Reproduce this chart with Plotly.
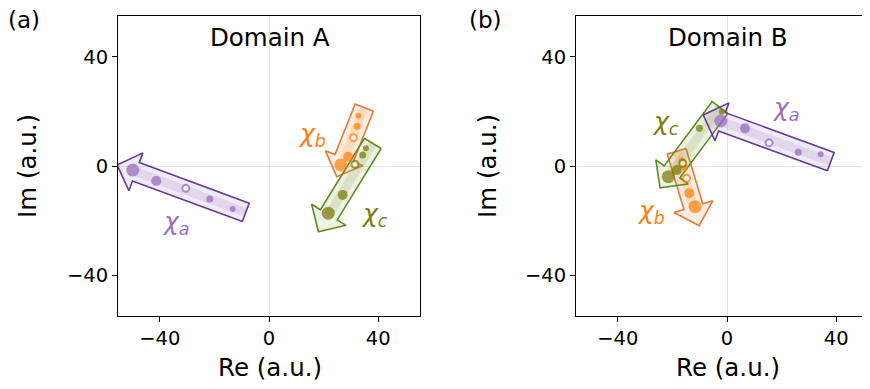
import math
import plotly.graph_objects as go

# ---------------- data ----------------
# Domain A : points ordered from arrow tail to arrow tip
a_chi_a_re = [-13.3, -21.7, -30.5, -41.3, -49.9]
a_chi_a_im = [-15.8, -12.1, -8.2, -5.5, -1.5]
a_chi_b_re = [32.7, 32.3, 30.9, 29.0, 26.3]
a_chi_b_im = [18.4, 14.6, 10.4, 3.4, 0.4]
a_chi_c_re = [35.5, 34.3, 31.5, 27.0, 21.7]
a_chi_c_im = [6.5, 4.0, 0.6, -10.6, -17.3]

# Domain B
b_chi_a_re = [34.3, 26.1, 15.4, 6.6, -2.3]
b_chi_a_im = [4.3, 5.0, 8.5, 13.8, 16.5]
b_chi_b_re = [-16.5, -15.6, -14.8, -13.8, -11.7]
b_chi_b_im = [2.0, -0.5, -4.5, -10.0, -14.9]
b_chi_c_re = [-1.9, -10.1, -16.2, -18.4, -21.5]
b_chi_c_im = [19.9, 13.8, 1.0, -1.5, -3.9]

hollow_index = 2
tick_vals = [-40, 0, 40]
tick_text = ["\u221240", "0", "40"]

# arrows: (tail centre, tip) in data units
a_arrow_a = ((-8.5, -17.0), (-55.6, 0.4))
a_arrow_b = ((34.9, 21.4), (24.8, -3.9))
a_arrow_c = ((38.0, 8.3), (18.1, -24.1))
b_arrow_a = ((38.0, 1.6), (-8.7, 18.7))
b_arrow_b = ((-18.45, 5.4), (-10.2, -21.9))
b_arrow_c = ((-2.55, 21.45), (-24.5, -8.0))

# ---------------- styles ----------------
W, H = 870, 389
OFF = 8  # page body margin
FONT = "DejaVu Sans"
marker_sizes = [6, 7, 8, 10, 13]
col_pts = {"a": "#9467bd", "b": "#ff7f0e", "c": "#767600"}
col_lab = {"a": "#9a6fc2", "b": "#ff7f0e", "c": "#7d7d10"}
col_edge = {"a": "#633a9c", "b": "#e8773a", "c": "#5c8c1e"}
col_fill = {"a": "rgba(148,103,189,0.13)", "b": "rgba(255,127,14,0.13)",
            "c": "rgba(120,150,40,0.13)"}
col_glow = {"a": "rgba(148,103,189,0.16)", "b": "rgba(255,127,14,0.16)",
            "c": "rgba(120,150,40,0.16)"}

fig = go.Figure()


def arrow_pts(tail, tip, bw=3.6, hw=7.4, hl=7.3):
    tx, ty = tail
    px, py = tip
    dx, dy = px - tx, py - ty
    L = math.hypot(dx, dy)
    ux, uy = dx / L, dy / L
    nx, ny = -uy, ux
    bx, by = px - hl * ux, py - hl * uy
    pts = [(tx + bw * nx, ty + bw * ny), (bx + bw * nx, by + bw * ny),
           (bx + hw * nx, by + hw * ny), (px, py),
           (bx - hw * nx, by - hw * ny), (bx - bw * nx, by - bw * ny),
           (tx - bw * nx, ty - bw * ny)]
    return pts, (bx, by)


def add_arrow(arrow, key, xa, ya):
    tail, tip = arrow
    pts, base = arrow_pts(tail, tip)
    fig.add_trace(go.Scatter(x=[tail[0], base[0]], y=[tail[1], base[1]],
                             mode="lines", line=dict(color=col_glow[key], width=9),
                             xaxis=xa, yaxis=ya, hoverinfo="skip", showlegend=False))
    xs = [p[0] for p in pts] + [pts[0][0]]
    ys = [p[1] for p in pts] + [pts[0][1]]
    fig.add_trace(go.Scatter(x=xs, y=ys, mode="lines", fill="toself",
                             fillcolor=col_fill[key],
                             line=dict(color=col_edge[key], width=1.6),
                             xaxis=xa, yaxis=ya, hoverinfo="skip", showlegend=False))


def add_points(re, im, key, xa, ya):
    colors = [("white" if i == hollow_index else col_pts[key]) for i in range(len(re))]
    lw = [2 if i == hollow_index else 0 for i in range(len(re))]
    sizes = [marker_sizes[i] - (1 if i == hollow_index else 0) for i in range(len(re))]
    fig.add_trace(go.Scatter(x=re, y=im, mode="markers",
                             marker=dict(size=sizes, color=colors,
                                         line=dict(color=col_pts[key], width=lw)),
                             xaxis=xa, yaxis=ya, showlegend=False))


# panel A
add_arrow(a_arrow_a, "a", "x", "y")
add_arrow(a_arrow_b, "b", "x", "y")
add_arrow(a_arrow_c, "c", "x", "y")
add_points(a_chi_b_re, a_chi_b_im, "b", "x", "y")
add_points(a_chi_c_re, a_chi_c_im, "c", "x", "y")
add_points(a_chi_a_re, a_chi_a_im, "a", "x", "y")
# panel B
add_arrow(b_arrow_b, "b", "x2", "y2")
add_arrow(b_arrow_c, "c", "x2", "y2")
add_arrow(b_arrow_a, "a", "x2", "y2")
add_points(b_chi_b_re, b_chi_b_im, "b", "x2", "y2")
add_points(b_chi_c_re, b_chi_c_im, "c", "x2", "y2")
add_points(b_chi_a_re, b_chi_a_im, "a", "x2", "y2")


# page pixel -> paper fraction
def fx(x):
    return (x - OFF) / W


def fy(y):
    return 1 - (y - OFF) / H


# ---------------- axes ----------------
ydom = [fy(316), fy(16)]
common = dict(tickvals=tick_vals, ticktext=tick_text, ticks="outside", ticklen=5,
              tickcolor="black", tickwidth=1, showline=True, linecolor="black",
              linewidth=1, showgrid=False, zeroline=True, zerolinecolor="#e4e4e4",
              zerolinewidth=1, tickfont=dict(family=FONT, size=19.5, color="black"),
              fixedrange=True, automargin=False)

fig.update_layout(
    xaxis=dict(domain=[fx(118), fx(420)], range=[-55.3, 55.3], mirror=True, anchor="y", **common),
    yaxis=dict(domain=ydom, range=[-55, 55], mirror=True, anchor="x", **common),
    xaxis2=dict(domain=[fx(576), fx(878)], range=[-55.3, 55.3],
                mirror=True, anchor="y2", **common),
    yaxis2=dict(domain=ydom, range=[-55, 55], mirror=False, anchor="x2", **common),
    width=W, height=H, margin=dict(l=0, r=0, t=0, b=0, autoexpand=False),
    paper_bgcolor="white", plot_bgcolor="white", showlegend=False,
)


def ann(text, x, y, size, color="black", **kw):
    fig.add_annotation(text=text, x=fx(x), y=fy(y), xref="paper", yref="paper",
                       showarrow=False, font=dict(family=FONT, size=size, color=color),
                       xanchor="center", yanchor="middle", **kw)


ann("(a)", 24, 20, 23)
ann("(b)", 486, 20, 23)
ann("Domain A", 270, 38, 24.5)
ann("Domain B", 728, 38, 24.5)
ann("Re (a.u.)", 270, 367, 24.5)
ann("Re (a.u.)", 728, 367, 24.5)
ann("Im (a.u.)", 27, 166, 24.5, textangle=-90)
ann("Im (a.u.)", 487, 166, 24.5, textangle=-90)


def chi(sub, x, y, key, xref, yref):
    fig.add_annotation(text="<i>\u03c7</i><sub><i>" + sub + "</i></sub>", x=x, y=y,
                       xref=xref, yref=yref, showarrow=False,
                       font=dict(family=FONT, size=25, color=col_lab[key]),
                       xanchor="center", yanchor="middle")


chi("a", -34, -21, "a", "x", "y")
chi("b", 15.8, 11.4, "b", "x", "y")
chi("c", 38.8, -18, "c", "x", "y")
chi("a", 21.6, 20.9, "a", "x2", "y2")
chi("c", -22.7, 15.9, "c", "x2", "y2")
chi("b", -27.8, -16.8, "b", "x2", "y2")

fig.write_html("out.html")
